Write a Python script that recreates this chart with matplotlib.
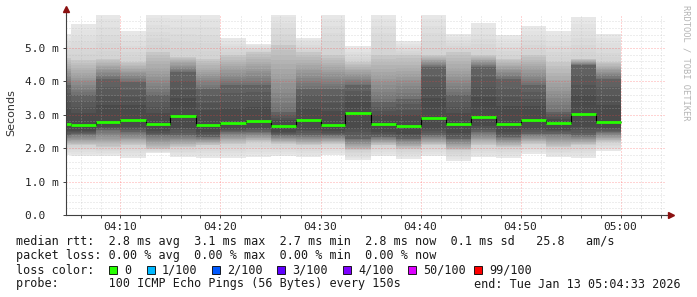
import numpy as np
import pandas as pd
import matplotlib
matplotlib.use('Agg')
import matplotlib.pyplot as plt
import matplotlib.dates as mdates
from matplotlib.patches import Rectangle

# smokeping style latency graph (1 hour, 150s step)

# step end times (first one is a partial step starting at 04:04:33)
t_start = pd.Timestamp('2026-01-13 04:04:33')
t_end = pd.Timestamp('2026-01-13 05:04:33')
step_ends = pd.date_range('2026-01-13 04:05:00', '2026-01-13 05:00:00', freq='150s')

# values in ms, one per step (partial step + 22 full steps)
median = [2.72, 2.68, 2.78, 2.84, 2.71, 2.97, 2.70, 2.75, 2.82, 2.67, 2.84, 2.69,
          3.05, 2.72, 2.66, 2.90, 2.72, 2.92, 2.72, 2.83, 2.75, 3.01, 2.78]
rtt_max = [5.42, 5.72, 6.10, 5.51, 6.10, 6.10, 6.10, 5.31, 5.13, 6.10, 5.31, 6.10,
           5.05, 6.10, 5.20, 6.10, 5.43, 5.76, 5.40, 5.67, 5.51, 5.94, 5.43]
rtt_hi2 = [4.70, 4.63, 4.67, 4.58, 4.88, 4.73, 4.67, 4.78, 4.88, 5.08, 4.88, 4.78,
           4.58, 4.78, 4.78, 4.78, 4.88, 4.78, 4.67, 4.78, 4.58, 4.67, 4.58]
rtt_hi1 = [3.90, 3.60, 4.08, 3.98, 3.58, 4.28, 3.78, 3.88, 3.88, 3.08, 3.78, 3.78,
           3.88, 3.38, 3.48, 4.43, 3.58, 4.43, 4.08, 3.88, 3.08, 4.48, 4.08]
rtt_lo1 = [2.40, 2.43, 2.54, 2.49, 2.39, 2.39, 2.34, 2.49, 2.49, 2.39, 2.39, 2.39,
           2.29, 2.34, 2.29, 2.39, 2.29, 2.49, 2.34, 2.44, 2.44, 2.39, 2.49]
rtt_lo2 = [2.10, 2.09, 2.04, 2.09, 1.99, 2.04, 2.09, 2.14, 2.19, 2.14, 2.09, 2.14,
           1.94, 2.09, 1.99, 2.09, 1.94, 2.09, 2.04, 2.14, 2.04, 2.09, 2.19]
rtt_min = [1.80, 1.78, 1.78, 1.72, 1.85, 1.75, 1.72, 1.72, 1.75, 1.78, 1.75, 1.80,
           1.65, 1.78, 1.68, 1.78, 1.62, 1.75, 1.72, 1.83, 1.75, 1.72, 1.93]

y_ticks = [0, 1, 2, 3, 4, 5]
y_labels = ['0.0  ', '1.0 m', '2.0 m', '3.0 m', '4.0 m', '5.0 m']

loss_colors = ['#26ff00', '#00b8ff', '#0059ff', '#5e00ff', '#7e00ff', '#dd00ff', '#ff0000']
loss_labels = ['0', '1/100', '2/100', '3/100', '4/100', '50/100', '99/100']

mono = 'DejaVu Sans Mono'
W, H = 697, 297

edges = mdates.date2num([t_start] + list(step_ends))
mx, hi2, hi1 = np.array(rtt_max), np.array(rtt_hi2), np.array(rtt_hi1)
lo1, lo2, mn = np.array(rtt_lo1), np.array(rtt_lo2), np.array(rtt_min)
med = np.array(median)

fig = plt.figure(figsize=(W / 100, H / 100), dpi=100)
ax = fig.add_axes([66 / W, (H - 215) / H, 600 / W, 200.4 / H])

# smoke: light outer part, gray shading, dark core (shaded in layers)
n = 6
for j in range(n):
    f = j / n
    c = 0.905 - 0.09 * f
    ax.stairs(mx + (hi2 - mx) * f, edges, baseline=mn + (lo2 - mn) * f,
              fill=True, color=(c, c, c), lw=0, zorder=1)
n = 14
for j in range(n):
    f = j / n
    c = 0.78 - 0.36 * f
    ax.stairs(hi2 + (hi1 - hi2) * f, edges, baseline=lo2 + (lo1 - lo2) * f,
              fill=True, color=(c, c, c), lw=0, zorder=1)
n = 4
for j in range(n):
    f = j / n
    c = 0.38 - 0.12 * f
    ax.stairs(hi1 + (med - hi1) * f * 0.8, edges, baseline=lo1 + (med - lo1) * f * 0.5,
              fill=True, color=(c, c, c), lw=0, zorder=1)

# median
ax.stairs(median, edges, baseline=None, color='#000000', lw=0.8, zorder=3)
ax.hlines(median, edges[:-1], edges[1:], color=loss_colors[0], lw=2.0, zorder=4)

ax.set_xlim(mdates.date2num(t_start), mdates.date2num(t_end))
ax.set_ylim(0, 6.0)

ax.xaxis.set_major_locator(mdates.MinuteLocator(byminute=range(0, 60, 10)))
ax.xaxis.set_minor_locator(mdates.MinuteLocator(byminute=range(0, 60, 2)))
ax.xaxis.set_major_formatter(mdates.DateFormatter('%H:%M'))
ax.set_yticks(y_ticks)
ax.set_yticklabels(y_labels)
ax.set_yticks(np.arange(0, 6.0, 0.2), minor=True)

ax.set_axisbelow(False)
ax.grid(which='minor', color='#b8b8b8', alpha=0.5, lw=0.72, ls=(0, (1, 2)))
ax.grid(which='major', color='#ff4040', alpha=0.45, lw=0.72, ls=(0, (1, 2)))

for s in ['top', 'right']:
    ax.spines[s].set_visible(False)
for s in ['left', 'bottom']:
    ax.spines[s].set_color('#404040')
    ax.spines[s].set_linewidth(0.8)
    ax.spines[s].set_zorder(5)

ax.tick_params(which='both', direction='out', length=2, width=0.7, color='#404040',
               labelsize=8, labelcolor='#222222', pad=3)
ax.tick_params(axis='y', which='minor', length=0)
for lab in ax.get_xticklabels() + ax.get_yticklabels():
    lab.set_family(mono)

# axis arrows
ax.plot([0, 0], [1, 1.03], color='#404040', lw=0.8, transform=ax.transAxes, clip_on=False)
ax.plot([1, 1.006], [0, 0], color='#404040', lw=0.8, transform=ax.transAxes, clip_on=False)
ax.plot([0], [1.03], marker='^', ms=4, color='#8b1010', transform=ax.transAxes, clip_on=False)
ax.plot([1.008], [0], marker='>', ms=4, color='#8b1010', transform=ax.transAxes, clip_on=False)

fig.text(11 / W, 1 - 113 / H, 'Seconds', rotation=90, ha='center', va='center',
         fontsize=8, color='#333333')
fig.text(686 / W, 1 - 5 / H, 'RRDTOOL / TOBI OETIKER', rotation=270, ha='center', va='top',
         fontsize=6.3, family=mono, color='#b4b4b4')

# legend block
txt = dict(fontsize=8.5, family=mono, color='#1a1a1a', va='center', ha='left')
fig.text(16 / W, 1 - 241 / H,
         'median rtt:  2.8 ms avg  3.1 ms max  2.7 ms min  2.8 ms now  0.1 ms sd   25.8   am/s', **txt)
fig.text(16 / W, 1 - 255.5 / H, 'packet loss: 0.00 % avg  0.00 % max  0.00 % min  0.00 % now', **txt)
fig.text(16 / W, 1 - 270 / H, 'loss color:', **txt)
fig.text(16 / W, 1 - 284 / H, 'probe:       100 ICMP Echo Pings (56 Bytes) every 150s', **txt)
fig.text(681 / W, 1 - 284 / H, 'end: Tue Jan 13 05:04:33 2026',
         **{**txt, 'ha': 'right'})

box_x = [109, 147, 212, 277, 343, 408, 474]
for bx, col, lab in zip(box_x, loss_colors, loss_labels):
    fig.add_artist(Rectangle((bx / W, 1 - 274 / H), 8 / W, 8 / H, facecolor=col,
                             edgecolor='#000000', lw=0.6, transform=fig.transFigure))
    fig.text((bx + 15) / W, 1 - 270 / H, lab, **txt)

fig.savefig('out.png', dpi=100, facecolor='white')
